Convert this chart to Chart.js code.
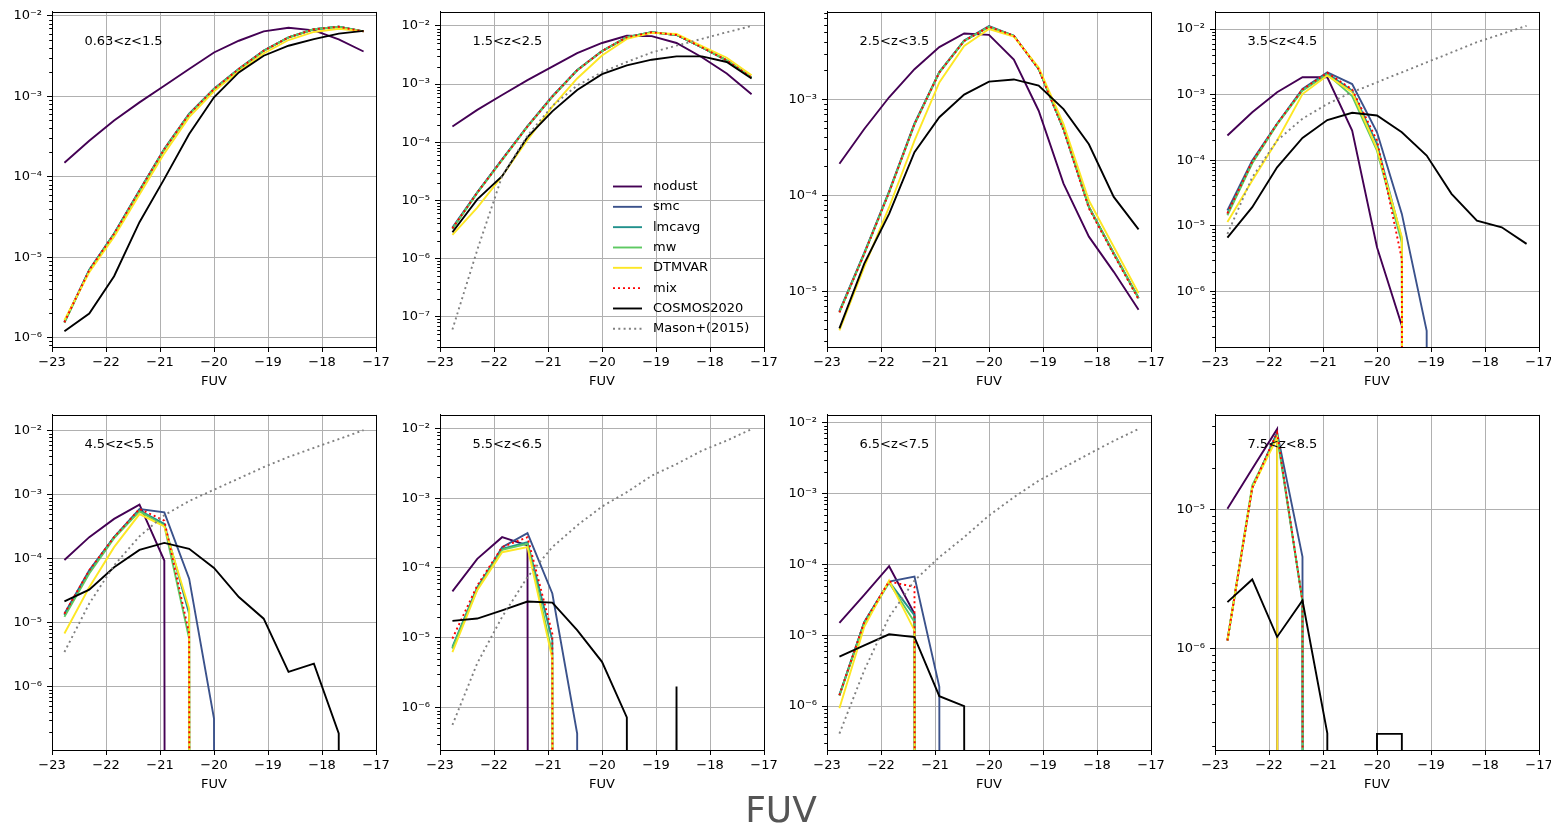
<!DOCTYPE html>
<html>
<head>
<meta charset="utf-8">
<script src="https://cdn.jsdelivr.net/npm/chart.js@4.4.1/dist/chart.umd.min.js"></script>
<style>
  html, body { margin: 0; padding: 0; background: #fff; }
  #figure { position: relative; width: 1551px; height: 826px; overflow: hidden; font-family: 'DejaVu Sans', sans-serif; }
  #figure canvas { position: absolute; }
  #supx { position: absolute; left: 781px; top: 792px; transform: translateX(-50%); font-size: 36px; line-height: 36px; color: #555; }
</style>
</head>
<body>
<div id="figure"></div>
<script>
/* Data */
var fuv = [-22.77, -22.31, -21.85, -21.38, -20.92, -20.46, -20.00, -19.54, -19.08, -18.62, -18.15, -17.69, -17.23];
var zBins = ['0.63<z<1.5', '1.5<z<2.5', '2.5<z<3.5', '3.5<z<4.5', '4.5<z<5.5', '5.5<z<6.5', '6.5<z<7.5', '7.5<z<8.5'];
var xTicks = [-23, -22, -21, -20, -19, -18, -17];
var yDecades = [[-2, -3, -4, -5, -6], [-2, -3, -4, -5, -6, -7], [-3, -4, -5], [-2, -3, -4, -5, -6],
	[-2, -3, -4, -5, -6], [-2, -3, -4, -5, -6], [-2, -3, -4, -5, -6], [-5, -6]];
var yLogMin = [-6.117, -7.485, -5.582, -6.848, -6.986, -6.611, -6.619, -6.727];
var yLogMax = [-1.950, -1.756, -2.088, -1.737, -1.751, -1.804, -1.892, -4.316];

var nodust = [
	[1.49e-4, 2.8e-4, 5.0e-4, 8.4e-4, 1.35e-3, 2.18e-3, 3.5e-3, 4.9e-3, 6.4e-3, 7.1e-3, 6.6e-3, 5.1e-3, 3.6e-3],
	[1.87e-4, 3.6e-4, 6.5e-4, 1.17e-3, 2.0e-3, 3.4e-3, 5.1e-3, 6.8e-3, 6.7e-3, 5.1e-3, 2.9e-3, 1.52e-3, 6.7e-4],
	[2.13e-4, 4.9e-4, 1.05e-3, 2.06e-3, 3.5e-3, 4.85e-3, 4.7e-3, 2.6e-3, 7.6e-4, 1.32e-4, 3.7e-5, 1.59e-5, 6.4e-6],
	[2.38e-4, 5.4e-4, 1.09e-3, 1.84e-3, 1.84e-3, 2.83e-4, 4.7e-6, 3.0e-7, 0, 0, 0, 0, 0],
	[9.6e-5, 2.18e-4, 4.2e-4, 7.0e-4, 9.4e-5, 0, 0, 0, 0, 0, 0, 0, 0],
	[4.6e-5, 1.35e-4, 2.76e-4, 2.1e-4, 0, 0, 0, 0, 0, 0, 0, 0, 0],
	[1.49e-5, 3.7e-5, 9.4e-5, 2.0e-5, 0, 0, 0, 0, 0, 0, 0, 0, 0],
	[1.02e-5, 1.98e-5, 3.81e-5, 0, 0, 0, 0, 0, 0, 0, 0, 0, 0]
];
var smc = [
	[1.58e-6, 7.0e-6, 1.97e-5, 6.8e-5, 2.22e-4, 6.1e-4, 1.24e-3, 2.2e-3, 3.7e-3, 5.4e-3, 6.8e-3, 7.3e-3, 6.4e-3],
	[3.4e-6, 1.38e-5, 5.1e-5, 1.9e-4, 6.2e-4, 1.75e-3, 3.7e-3, 6.4e-3, 7.8e-3, 7.0e-3, 4.3e-3, 2.56e-3, 1.3e-3],
	[6.2e-6, 2.5e-5, 1.1e-4, 5.6e-4, 1.93e-3, 4.1e-3, 5.8e-3, 4.6e-3, 2.07e-3, 4.9e-4, 7.6e-5, 2.5e-5, 8.5e-6],
	[1.71e-5, 9.9e-5, 3.6e-4, 1.22e-3, 2.19e-3, 1.45e-3, 2.67e-4, 1.52e-5, 2.5e-7, 0, 0, 0, 0],
	[1.39e-5, 6.6e-5, 2.18e-4, 6.0e-4, 5.3e-4, 4.9e-5, 3.2e-7, 0, 0, 0, 0, 0, 0],
	[7.0e-6, 5.0e-5, 1.99e-4, 3.15e-4, 4.3e-5, 4.2e-7, 0, 0, 0, 0, 0, 0, 0],
	[1.43e-6, 1.53e-5, 5.7e-5, 6.7e-5, 1.87e-6, 0, 0, 0, 0, 0, 0, 0, 0],
	[1.15e-6, 1.44e-5, 3.6e-5, 4.6e-6, 0, 0, 0, 0, 0, 0, 0, 0, 0]
];
var lmcavg = [
	[1.55e-6, 6.9e-6, 1.95e-5, 6.7e-5, 2.2e-4, 6.0e-4, 1.23e-3, 2.18e-3, 3.68e-3, 5.4e-3, 6.8e-3, 7.3e-3, 6.4e-3],
	[3.3e-6, 1.36e-5, 5.0e-5, 1.87e-4, 6.1e-4, 1.73e-3, 3.7e-3, 6.4e-3, 7.8e-3, 7.0e-3, 4.3e-3, 2.56e-3, 1.3e-3],
	[6.1e-6, 2.47e-5, 1.08e-4, 5.5e-4, 1.91e-3, 4.07e-3, 5.7e-3, 4.6e-3, 2.07e-3, 4.9e-4, 7.5e-5, 2.47e-5, 8.5e-6],
	[1.52e-5, 9.3e-5, 3.6e-4, 1.18e-3, 2.11e-3, 1.15e-3, 1.77e-4, 6.3e-6, 0, 0, 0, 0, 0],
	[1.31e-5, 6.2e-5, 2.18e-4, 5.7e-4, 3.5e-4, 1.39e-5, 0, 0, 0, 0, 0, 0, 0],
	[7.4e-6, 5.3e-5, 1.88e-4, 2.34e-4, 9.2e-6, 0, 0, 0, 0, 0, 0, 0, 0],
	[1.43e-6, 1.53e-5, 5.7e-5, 1.9e-5, 0, 0, 0, 0, 0, 0, 0, 0, 0],
	[1.15e-6, 1.44e-5, 3.5e-5, 2.2e-6, 0, 0, 0, 0, 0, 0, 0, 0, 0]
];
var mw = [
	[1.52e-6, 6.8e-6, 1.92e-5, 6.6e-5, 2.18e-4, 5.95e-4, 1.22e-3, 2.17e-3, 3.66e-3, 5.38e-3, 6.8e-3, 7.3e-3, 6.4e-3],
	[3.2e-6, 1.34e-5, 4.9e-5, 1.85e-4, 6.0e-4, 1.72e-3, 3.68e-3, 6.4e-3, 7.8e-3, 7.0e-3, 4.3e-3, 2.56e-3, 1.3e-3],
	[6.0e-6, 2.45e-5, 1.07e-4, 5.45e-4, 1.9e-3, 4.05e-3, 5.7e-3, 4.6e-3, 2.07e-3, 4.9e-4, 7.5e-5, 2.47e-5, 8.4e-6],
	[1.45e-5, 9.0e-5, 3.5e-4, 1.15e-3, 2.05e-3, 9.5e-4, 1.4e-4, 5.5e-6, 0, 0, 0, 0, 0],
	[1.24e-5, 5.9e-5, 2.1e-4, 5.5e-4, 3.3e-4, 5.7e-6, 0, 0, 0, 0, 0, 0, 0],
	[7.0e-6, 5.0e-5, 1.82e-4, 2.22e-4, 5.9e-6, 0, 0, 0, 0, 0, 0, 0, 0],
	[1.4e-6, 1.45e-5, 5.5e-5, 1.53e-5, 0, 0, 0, 0, 0, 0, 0, 0, 0],
	[1.15e-6, 1.5e-5, 3.4e-5, 2.2e-6, 0, 0, 0, 0, 0, 0, 0, 0, 0]
];
var dtmvar = [
	[1.65e-6, 6.5e-6, 1.8e-5, 6.0e-5, 1.95e-4, 5.5e-4, 1.15e-3, 2.05e-3, 3.4e-3, 5.0e-3, 6.3e-3, 6.9e-3, 6.4e-3],
	[2.54e-6, 7.5e-6, 2.6e-5, 1.1e-4, 4.1e-4, 1.25e-3, 3.1e-3, 6.0e-3, 7.6e-3, 7.3e-3, 4.5e-3, 2.84e-3, 1.42e-3],
	[3.9e-6, 1.79e-5, 7.5e-5, 3.7e-4, 1.5e-3, 3.6e-3, 5.4e-3, 4.5e-3, 2.15e-3, 5.5e-4, 8.8e-5, 2.9e-5, 9.5e-6],
	[1.14e-5, 4.9e-5, 2.0e-4, 1.02e-3, 1.95e-3, 1.09e-3, 1.49e-4, 6.7e-6, 0, 0, 0, 0, 0],
	[6.8e-6, 3.6e-5, 1.52e-4, 5.0e-4, 3.2e-4, 1.66e-5, 0, 0, 0, 0, 0, 0, 0],
	[6.2e-6, 4.8e-5, 1.68e-4, 1.99e-4, 5.0e-6, 0, 0, 0, 0, 0, 0, 0, 0],
	[9.3e-7, 1.31e-5, 5.9e-5, 1.17e-5, 0, 0, 0, 0, 0, 0, 0, 0, 0],
	[1.15e-6, 1.44e-5, 3.3e-5, 0, 0, 0, 0, 0, 0, 0, 0, 0, 0]
];
var mix = [
	[1.55e-6, 6.9e-6, 1.95e-5, 6.7e-5, 2.2e-4, 6.0e-4, 1.23e-3, 2.18e-3, 3.68e-3, 5.4e-3, 6.8e-3, 7.3e-3, 6.4e-3],
	[3.3e-6, 1.36e-5, 5.0e-5, 1.87e-4, 6.1e-4, 1.73e-3, 3.7e-3, 6.4e-3, 7.8e-3, 7.0e-3, 4.3e-3, 2.56e-3, 1.3e-3],
	[6.0e-6, 2.45e-5, 1.07e-4, 5.5e-4, 1.9e-3, 4.05e-3, 5.7e-3, 4.6e-3, 2.05e-3, 4.8e-4, 7.3e-5, 2.4e-5, 8.2e-6],
	[1.55e-5, 9.5e-5, 3.6e-4, 1.2e-3, 2.15e-3, 1.2e-3, 2.0e-4, 3.1e-6, 0, 0, 0, 0, 0],
	[1.39e-5, 6.6e-5, 2.18e-4, 6.0e-4, 3.95e-4, 6.8e-6, 0, 0, 0, 0, 0, 0, 0],
	[9.7e-6, 5.6e-5, 1.99e-4, 2.76e-4, 1.14e-5, 0, 0, 0, 0, 0, 0, 0, 0],
	[1.43e-6, 1.53e-5, 5.7e-5, 4.8e-5, 0, 0, 0, 0, 0, 0, 0, 0, 0],
	[1.15e-6, 1.44e-5, 3.6e-5, 2.2e-6, 0, 0, 0, 0, 0, 0, 0, 0, 0]
];
var cosmos2020 = [
	[1.2e-6, 1.99e-6, 5.8e-6, 2.72e-5, 9.4e-5, 3.4e-4, 9.7e-4, 1.98e-3, 3.19e-3, 4.25e-3, 5.13e-3, 6.0e-3, 6.5e-3],
	[2.83e-6, 1.04e-5, 2.6e-5, 1.23e-4, 3.4e-4, 7.9e-4, 1.48e-3, 2.1e-3, 2.63e-3, 3.0e-3, 3.0e-3, 2.4e-3, 1.25e-3],
	[4.1e-6, 1.94e-5, 6.4e-5, 2.81e-4, 6.5e-4, 1.12e-3, 1.53e-3, 1.61e-3, 1.39e-3, 7.9e-4, 3.4e-4, 9.6e-5, 4.4e-5],
	[6.6e-6, 1.92e-5, 7.8e-5, 2.19e-4, 4.1e-4, 5.3e-4, 4.8e-4, 2.67e-4, 1.18e-4, 3.07e-5, 1.2e-5, 9.5e-6, 5.3e-6],
	[2.16e-5, 3.3e-5, 7.4e-5, 1.38e-4, 1.77e-4, 1.43e-4, 7.2e-5, 2.53e-5, 1.16e-5, 1.71e-6, 2.31e-6, 1.87e-7, 0],
	[1.74e-5, 1.88e-5, 2.47e-5, 3.3e-5, 3.18e-5, 1.28e-5, 4.5e-6, 7.2e-7, 0, 2.0e-6, 0, 0, 0],
	[5.0e-6, 7.2e-6, 1.03e-5, 9.4e-6, 1.38e-6, 1.0e-6, 0, 0, 0, 0, 0, 0, 0],
	[2.17e-6, 3.16e-6, 1.22e-6, 2.23e-6, 2.47e-7, 0, 2.45e-7, 2.45e-7, 0, 0, 0, 0, 0]
];
var mason2015 = [
	null,
	[6e-8, 1.4e-6, 2.6e-5, 1.3e-4, 4.2e-4, 9.5e-4, 1.6e-3, 2.4e-3, 3.5e-3, 4.6e-3, 6.0e-3, 7.8e-3, 1.0e-2],
	null,
	[7.5e-6, 5.5e-5, 2.0e-4, 4.3e-4, 7.2e-4, 1.09e-3, 1.54e-3, 2.19e-3, 3.1e-3, 4.4e-3, 6.3e-3, 8.4e-3, 1.12e-2],
	[3.5e-6, 2.0e-5, 7.9e-5, 2.24e-4, 4.8e-4, 8.0e-4, 1.2e-3, 1.8e-3, 2.7e-3, 3.9e-3, 5.4e-3, 7.4e-3, 1.02e-2],
	[5.6e-7, 4.3e-6, 1.98e-5, 7.4e-5, 1.99e-4, 4.06e-4, 7.6e-4, 1.22e-3, 2.1e-3, 3.09e-3, 4.8e-3, 6.7e-3, 9.8e-3],
	[4.1e-7, 3.2e-6, 1.8e-5, 5.9e-5, 1.26e-4, 2.41e-4, 4.87e-4, 8.8e-4, 1.51e-3, 2.32e-3, 3.59e-3, 5.5e-3, 8.1e-3],
	null
];

var seriesNames = ['nodust', 'smc', 'lmcavg', 'mw', 'DTMVAR', 'mix', 'COSMOS2020', 'Mason+(2015)'];
var seriesData = [nodust, smc, lmcavg, mw, dtmvar, mix, cosmos2020, mason2015];

/* Styles */
var seriesStyles = [
	{ color: '#440154' },
	{ color: '#3b528b' },
	{ color: '#21918c' },
	{ color: '#5ec962' },
	{ color: '#fde725' },
	{ color: '#ff0000', dash: [2, 3] },
	{ color: '#000000' },
	{ color: '#808080', dash: [2, 3.3] }
];
var plotLefts = [52, 440, 827, 1215];
var plotTops = [11, 414];
var plotW = 324, plotH = 336;
var padTop = 12, padRight = 20, yAxisW = 52, xAxisH = 50;
var font = '"DejaVu Sans", sans-serif';

var supMap = { '-': '\u207b', '0': '\u2070', '1': '\u00b9', '2': '\u00b2', '3': '\u00b3', '4': '\u2074',
	'5': '\u2075', '6': '\u2076', '7': '\u2077', '8': '\u2078', '9': '\u2079' };
var powLabel = function(v){
	var e = Math.round(Math.log10(v));
	return '10' + String(e).split('').map(function(c){ return supMap[c]; }).join('');
};

/* log(0) in matplotlib is clipped far below the axis: emulate that */
var clipZero = function(v){ return v === 0 ? 1e-300 : v; };

/* Plugins */
var framePlugin = {
	id: 'frame',
	afterDraw: function(chart){
		var a = chart.chartArea, ctx = chart.ctx;
		ctx.save();
		ctx.strokeStyle = '#000';
		ctx.lineWidth = 1;
		ctx.strokeRect(Math.round(a.left) + 0.5, Math.round(a.top) + 0.5, Math.round(a.right - a.left), Math.round(a.bottom - a.top));
		// minor ticks on the log axis
		var y = chart.scales.y;
		var lo = Math.floor(Math.log10(y.min)), hi = Math.ceil(Math.log10(y.max));
		ctx.beginPath();
		for (var d = lo; d <= hi; d++) {
			for (var k = 2; k <= 9; k++) {
				var v = k * Math.pow(10, d);
				if (v < y.min || v > y.max) continue;
				var py = Math.round(y.getPixelForValue(v)) + 0.5;
				ctx.moveTo(a.left, py);
				ctx.lineTo(a.left - 2.8, py);
			}
		}
		ctx.stroke();
		ctx.restore();
	}
};

var labelPlugin = {
	id: 'zlabel',
	afterDatasetsDraw: function(chart, args, opts){
		var a = chart.chartArea, ctx = chart.ctx;
		ctx.save();
		ctx.font = '13px ' + font;
		ctx.fillStyle = '#000';
		ctx.textBaseline = 'alphabetic';
		ctx.fillText(opts.text, a.left + 0.1 * (a.right - a.left), a.top + 0.1 * (a.bottom - a.top));
		ctx.restore();
	}
};

var insetLegend = {
	id: 'insetLegend',
	afterDatasetsDraw: function(chart, args, opts){
		if (!opts.show) return;
		var a = chart.chartArea, ctx = chart.ctx;
		ctx.save();
		ctx.font = '13px ' + font;
		ctx.textBaseline = 'middle';
		seriesNames.forEach(function(name, i){
			var st = seriesStyles[i];
			var y = a.top + 174.7 + i * 20.33;
			ctx.beginPath();
			ctx.setLineDash(st.dash || []);
			ctx.strokeStyle = st.color;
			ctx.lineWidth = 1.9;
			ctx.moveTo(a.left + 173, y);
			ctx.lineTo(a.left + 202, y);
			ctx.stroke();
			ctx.setLineDash([]);
			ctx.fillStyle = '#000';
			ctx.fillText(name, a.left + 213, y);
		});
		ctx.restore();
	}
};

var buildDatasets = function(p){
	var sets = [];
	seriesData.forEach(function(series, i){
		var vals = series[p];
		if (!vals) return;
		sets.push({
			label: seriesNames[i],
			data: fuv.map(function(x, j){ return { x: x, y: clipZero(vals[j]) }; }),
			borderColor: seriesStyles[i].color,
			borderDash: seriesStyles[i].dash || [],
			borderWidth: 1.9,
			pointRadius: 0,
			tension: 0,
			fill: false,
			order: seriesNames.length - i
		});
	});
	return sets;
};

var makePanel = function(p){
	var col = p % 4, row = Math.floor(p / 4);
	var canvas = document.createElement('canvas');
	var w = yAxisW + plotW + padRight, h = padTop + plotH + xAxisH;
	canvas.width = w; canvas.height = h;
	canvas.style.width = w + 'px'; canvas.style.height = h + 'px';
	canvas.style.left = (plotLefts[col] - yAxisW) + 'px';
	canvas.style.top = (plotTops[row] - padTop) + 'px';
	document.getElementById('figure').appendChild(canvas);

	var decades = yDecades[p];
	new Chart(canvas, {
		type: 'line',
		data: { datasets: buildDatasets(p) },
		plugins: [framePlugin, labelPlugin, insetLegend],
		options: {
			responsive: false,
			animation: false,
			devicePixelRatio: 1,
			layout: { padding: { top: padTop, right: padRight, left: 0, bottom: 0 } },
			plugins: {
				legend: { display: false },
				tooltip: { enabled: false },
				zlabel: { text: zBins[p] },
				insetLegend: { show: p === 1 }
			},
			scales: {
				x: {
					type: 'linear',
					min: -23, max: -17,
					afterBuildTicks: function(s){ s.ticks = xTicks.map(function(v){ return { value: v }; }); },
					afterFit: function(s){ s.height = xAxisH; },
					ticks: {
						color: '#000', font: { family: font, size: 13 }, padding: 3, maxRotation: 0, autoSkip: false,
						callback: function(v){ return (v < 0 ? '\u2212' : '') + Math.abs(v); }
					},
					grid: { color: '#b0b0b0', lineWidth: 1, tickColor: '#000', tickLength: 5 },
					border: { color: '#000', width: 1 },
					title: { display: true, text: 'FUV', color: '#000', font: { family: font, size: 13 }, padding: { top: 0, bottom: 8 } }
				},
				y: {
					type: 'logarithmic',
					min: Math.pow(10, yLogMin[p]), max: Math.pow(10, yLogMax[p]),
					afterBuildTicks: function(s){ s.ticks = decades.map(function(e){ return { value: Math.pow(10, e) }; }); },
					afterFit: function(s){ s.width = yAxisW; },
					ticks: {
						color: '#000', font: { family: font, size: 13 }, padding: 5, autoSkip: false,
						callback: function(v){ return powLabel(v); }
					},
					grid: { color: '#b0b0b0', lineWidth: 1, tickColor: '#000', tickLength: 5 },
					border: { color: '#000', width: 1 }
				}
			}
		}
	});
};

for (var p = 0; p < 8; p++) makePanel(p);

var supx = document.createElement('div');
supx.id = 'supx';
supx.textContent = 'FUV';
document.getElementById('figure').appendChild(supx);
</script>
</body>
</html>
